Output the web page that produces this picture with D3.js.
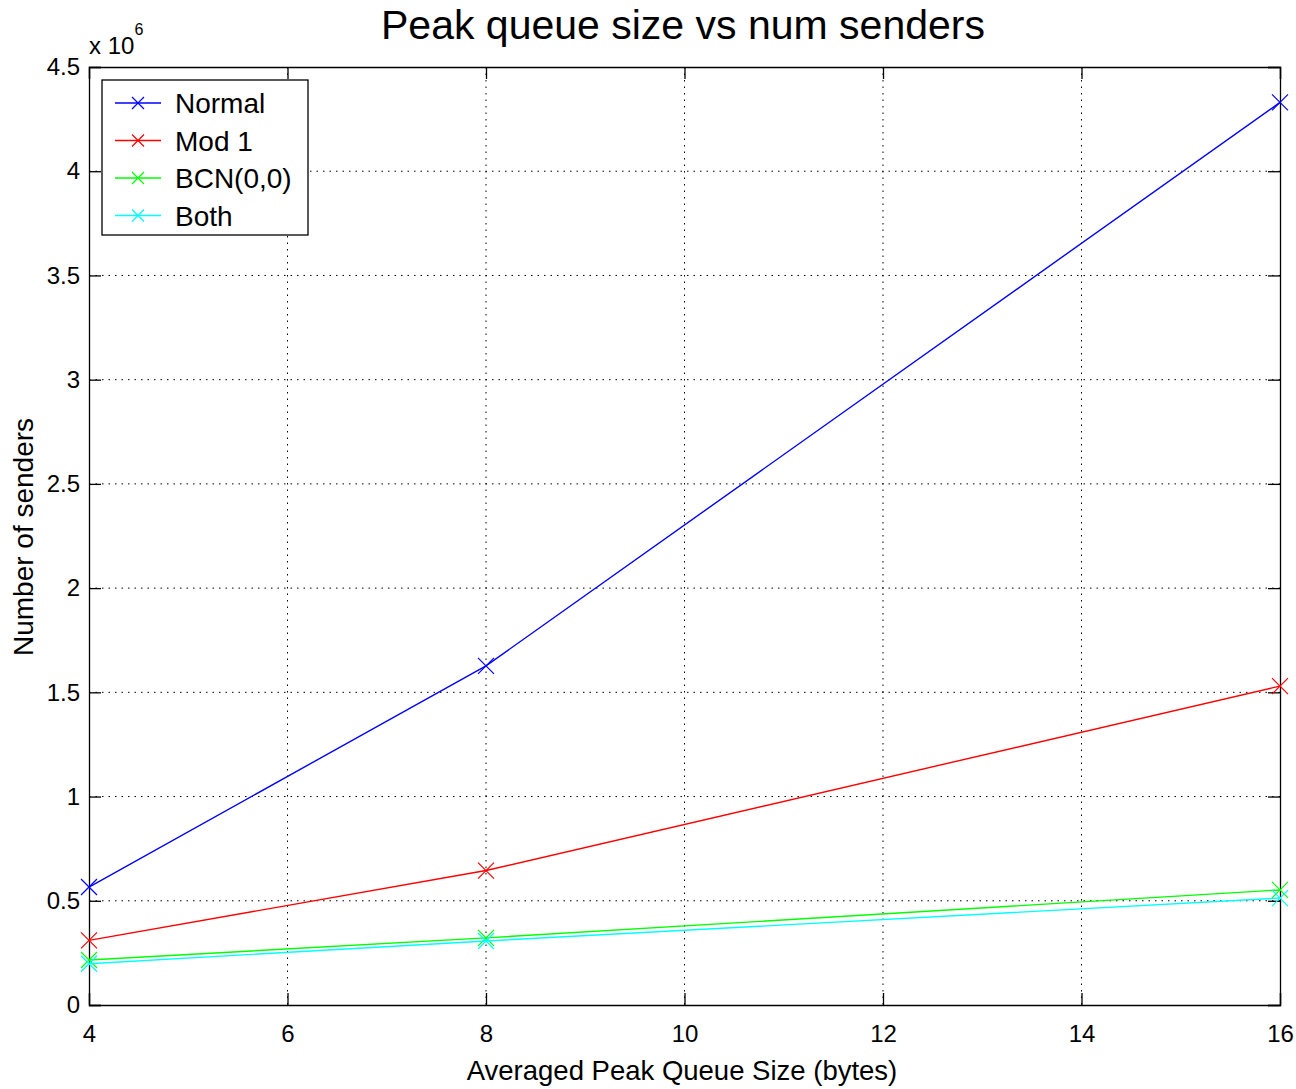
<!DOCTYPE html>
<html>
<head>
<meta charset="utf-8">
<script src="https://cdn.jsdelivr.net/npm/d3@7"></script>
<style>
  body { margin: 0; background: #fff; }
  text { font-family: "Liberation Sans", Arial, sans-serif; }
</style>
</head>
<body>
<div id="chart"></div>
<script>
var senders = [4, 8, 16];
var normal = [0.566, 1.627, 4.33];
var mod1 = [0.31, 0.645, 1.53];
var bcn = [0.216, 0.322, 0.552];
var both = [0.198, 0.307, 0.513];
var seriesNames = ["Normal", "Mod 1", "BCN(0,0)", "Both"];
var seriesColors = ["#0000ff", "#ff0000", "#00ff00", "#00ffff"];
var xTicks = [4, 6, 8, 10, 12, 14, 16];
var yTicks = [0, 0.5, 1, 1.5, 2, 2.5, 3, 3.5, 4, 4.5];

(function(){
  var width = 1296, height = 1089;
  var left = 89, right = 1280, top = 67, bottom = 1005;

  var svg = d3.select("#chart").append("svg")
    .attr("width", width).attr("height", height);

  var x = d3.scaleLinear().domain([4, 16]).range([left, right]);
  var y = d3.scaleLinear().domain([0, 4.5]).range([bottom, top]);

  // dotted grid
  svg.append("g").selectAll("line").data(xTicks.slice(1, -1)).enter().append("line")
    .attr("x1", d => x(d)).attr("x2", d => x(d))
    .attr("y1", top).attr("y2", bottom)
    .attr("stroke", "#000").attr("stroke-width", 1)
    .attr("stroke-dasharray", "1.5,5");
  svg.append("g").selectAll("line").data(yTicks.slice(1, -1)).enter().append("line")
    .attr("x1", left).attr("x2", right)
    .attr("y1", d => y(d)).attr("y2", d => y(d))
    .attr("stroke", "#000").attr("stroke-width", 1)
    .attr("stroke-dasharray", "1.5,5");

  // axes, ticks pointing in on all four sides
  var tl = 12;
  svg.append("g").attr("transform", "translate(0," + bottom + ")")
    .call(d3.axisBottom(x).tickValues(xTicks).tickSize(-tl).tickPadding(20).tickFormat(d3.format("d")));
  svg.append("g").attr("transform", "translate(0," + top + ")")
    .call(d3.axisTop(x).tickValues(xTicks).tickSize(-tl).tickFormat(""));
  svg.append("g").attr("transform", "translate(" + left + ",0)")
    .call(d3.axisLeft(y).tickValues(yTicks).tickSize(-tl).tickPadding(9).tickFormat(d3.format("")));
  svg.append("g").attr("transform", "translate(" + right + ",0)")
    .call(d3.axisRight(y).tickValues(yTicks).tickSize(-tl).tickFormat(""));

  svg.selectAll(".domain").attr("stroke", "#000").attr("stroke-width", 1.3);
  svg.selectAll(".tick line").attr("stroke", "#000").attr("stroke-width", 1.3);
  svg.selectAll(".tick text").style("font-size", "24px").attr("fill", "#000")
    .style("font-family", "Liberation Sans, Arial, sans-serif");

  // series lines with x markers
  var allSeries = [normal, mod1, bcn, both];
  var line = d3.line().x((d, i) => x(senders[i])).y(d => y(d));
  var ms = 8;
  allSeries.forEach(function(vals, k) {
    var g = svg.append("g");
    g.append("path").datum(vals).attr("d", line)
      .attr("fill", "none").attr("stroke", seriesColors[k]).attr("stroke-width", 1.4);
    g.selectAll("path.mk").data(vals).enter().append("path").attr("class", "mk")
      .attr("d", (d, i) => {
        var cx = x(senders[i]), cy = y(d);
        return "M" + (cx - ms) + "," + (cy - ms) + "L" + (cx + ms) + "," + (cy + ms) +
          "M" + (cx - ms) + "," + (cy + ms) + "L" + (cx + ms) + "," + (cy - ms);
      })
      .attr("stroke", seriesColors[k]).attr("stroke-width", 1.2);
  });

  // legend
  var lg = svg.append("g");
  lg.append("rect").attr("x", 102).attr("y", 80).attr("width", 206).attr("height", 155)
    .attr("fill", "#fff").attr("stroke", "#000").attr("stroke-width", 1.3);
  seriesNames.forEach(function(name, k) {
    var ly = 103 + k * 37.5;
    lg.append("line").attr("x1", 115).attr("x2", 161).attr("y1", ly).attr("y2", ly)
      .attr("stroke", seriesColors[k]).attr("stroke-width", 1.4);
    lg.append("path")
      .attr("d", "M" + (138 - 6) + "," + (ly - 6) + "L" + (138 + 6) + "," + (ly + 6) +
        "M" + (138 - 6) + "," + (ly + 6) + "L" + (138 + 6) + "," + (ly - 6))
      .attr("stroke", seriesColors[k]).attr("stroke-width", 1.2);
    lg.append("text").attr("x", 175).attr("y", ly + 10).attr("font-size", 28).text(name);
  });

  // titles
  svg.append("text").attr("x", 683).attr("y", 39).attr("text-anchor", "middle")
    .attr("font-size", 41).text("Peak queue size vs num senders");
  svg.append("text").attr("x", 682).attr("y", 1080).attr("text-anchor", "middle")
    .attr("font-size", 27.5).text("Averaged Peak Queue Size (bytes)");
  svg.append("text").attr("transform", "translate(33," + 537 + ") rotate(-90)")
    .attr("text-anchor", "middle").attr("font-size", 28).text("Number of senders");

  var ex = svg.append("text").attr("x", 89).attr("y", 54).attr("font-size", 24);
  ex.append("tspan").text("x 10");
  ex.append("tspan").attr("dy", -19).attr("font-size", 16).text("6");
})();
</script>
</body>
</html>
